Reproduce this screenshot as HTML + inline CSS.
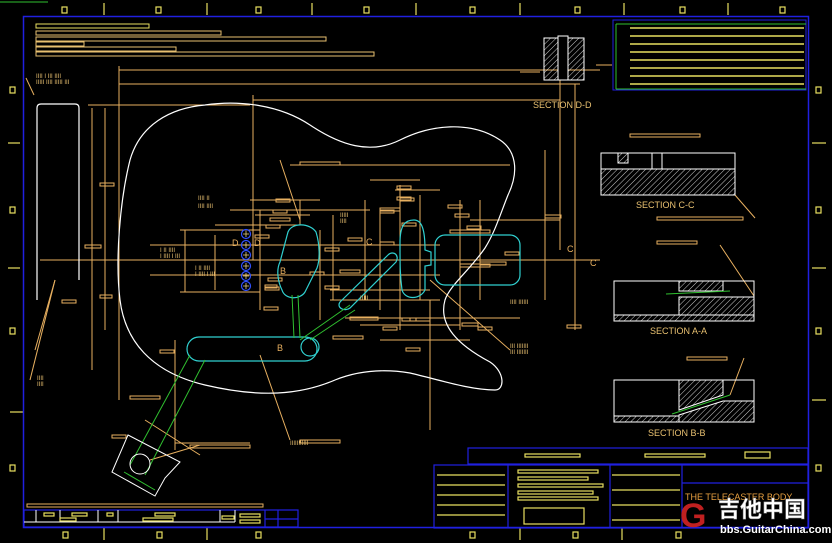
<!DOCTYPE html>
<html><head><style>
html,body{margin:0;padding:0;background:#000;width:832px;height:543px;overflow:hidden}
svg{display:block}
text{font-family:"Liberation Sans","Noto Sans CJK SC",sans-serif}
</style></head><body>
<svg width="832" height="543" viewBox="0 0 832 543" xmlns="http://www.w3.org/2000/svg">
<defs>
<pattern id="h" width="4" height="4" patternUnits="userSpaceOnUse" patternTransform="rotate(45)">
<line x1="0" y1="0" x2="0" y2="4" stroke="#fff" stroke-width="0.8"/>
</pattern>
</defs>
<rect width="832" height="543" fill="#000"/>
<!-- outer ticks -->
<g stroke="#e8e060" fill="none" stroke-width="1.2">
<rect x="62" y="7" width="5" height="6"/><rect x="156" y="7" width="5" height="6"/><rect x="256" y="7" width="5" height="6"/><rect x="364" y="7" width="5" height="6"/><rect x="470" y="7" width="5" height="6"/><rect x="575" y="7" width="5" height="6"/><rect x="680" y="7" width="5" height="6"/><rect x="780" y="7" width="5" height="6"/>
<line x1="104" y1="3" x2="104" y2="15"/><line x1="207" y1="3" x2="207" y2="15"/><line x1="312" y1="3" x2="312" y2="15"/><line x1="416" y1="3" x2="416" y2="15"/><line x1="520" y1="3" x2="520" y2="15"/><line x1="624" y1="3" x2="624" y2="15"/><line x1="728" y1="3" x2="728" y2="15"/>
<rect x="10" y="87" width="5" height="6"/><rect x="10" y="207" width="5" height="6"/><rect x="10" y="328" width="5" height="6"/><rect x="10" y="465" width="5" height="6"/>
<line x1="8" y1="143" x2="20" y2="143"/><line x1="8" y1="268" x2="20" y2="268"/><line x1="10" y1="412" x2="24" y2="412"/>
<rect x="816" y="87" width="5" height="6"/><rect x="816" y="207" width="5" height="6"/><rect x="816" y="328" width="5" height="6"/><rect x="816" y="465" width="5" height="6"/>
<line x1="812" y1="143" x2="826" y2="143"/><line x1="812" y1="268" x2="826" y2="268"/><line x1="812" y1="400" x2="826" y2="400"/>
<rect x="63" y="532" width="5" height="6"/><rect x="157" y="532" width="5" height="6"/><rect x="256" y="532" width="5" height="6"/><rect x="470" y="532" width="5" height="6"/><rect x="573" y="532" width="5" height="6"/><rect x="676" y="532" width="5" height="6"/>
<line x1="104" y1="528" x2="104" y2="540"/><line x1="207" y1="528" x2="207" y2="540"/><line x1="520" y1="528" x2="520" y2="540"/><line x1="622" y1="528" x2="622" y2="540"/>
</g>
<line x1="0" y1="2" x2="48" y2="2" stroke="#30c030"/>
<!-- border -->
<rect x="23.5" y="16.5" width="785" height="511" fill="none" stroke="#2020e0" stroke-width="1.5"/>
<!-- top notes -->
<g fill="none" stroke="#e8c070" stroke-width="1">
<rect x="36" y="24" width="113" height="4" stroke="#e8e060"/><rect x="36" y="31" width="185" height="4"/><rect x="36" y="37" width="290" height="4"/><rect x="36" y="42" width="48" height="4"/><rect x="36" y="47" width="140" height="4"/><rect x="36" y="52" width="338" height="4"/>
</g>
<!-- dimension lines orange -->
<g stroke="#e8b060" stroke-width="1" fill="none">
<line x1="119" y1="70" x2="600" y2="70"/><line x1="119" y1="84" x2="580" y2="84"/><line x1="253" y1="100" x2="560" y2="100"/>
<line x1="119" y1="66" x2="119" y2="400"/><line x1="253" y1="95" x2="253" y2="260"/>
<line x1="88" y1="105" x2="250" y2="105"/><line x1="92" y1="108" x2="92" y2="370"/><line x1="105" y1="108" x2="105" y2="330"/>
<line x1="40" y1="260" x2="600" y2="260"/><line x1="150" y1="245" x2="440" y2="245"/><line x1="150" y1="275" x2="440" y2="275"/>
<line x1="180" y1="230" x2="260" y2="230"/><line x1="180" y1="292" x2="260" y2="292"/><line x1="185" y1="230" x2="185" y2="292"/><line x1="215" y1="235" x2="215" y2="290"/>
<line x1="560" y1="70" x2="560" y2="250"/><line x1="575" y1="84" x2="575" y2="330"/><line x1="545" y1="150" x2="545" y2="300"/>
<line x1="290" y1="165" x2="510" y2="165"/><line x1="370" y1="180" x2="420" y2="180"/><line x1="230" y1="210" x2="370" y2="210"/><line x1="215" y1="225" x2="300" y2="225"/>
<line x1="330" y1="290" x2="430" y2="290"/><line x1="360" y1="325" x2="460" y2="325"/><line x1="470" y1="220" x2="560" y2="220"/>
<line x1="345" y1="318" x2="520" y2="318"/><line x1="330" y1="300" x2="440" y2="300"/><line x1="380" y1="340" x2="470" y2="340"/>
<line x1="250" y1="200" x2="320" y2="200"/><line x1="255" y1="215" x2="310" y2="215"/><line x1="395" y1="190" x2="440" y2="190"/>
<line x1="175" y1="340" x2="175" y2="450"/><line x1="175" y1="443" x2="250" y2="443"/><line x1="430" y1="300" x2="430" y2="430"/>
<line x1="260" y1="355" x2="290" y2="440"/><line x1="430" y1="280" x2="510" y2="350"/><line x1="280" y1="160" x2="300" y2="220"/>
<line x1="400" y1="185" x2="400" y2="330"/><line x1="365" y1="200" x2="365" y2="300"/><line x1="320" y1="230" x2="320" y2="320"/>
<line x1="333" y1="215" x2="333" y2="300"/><line x1="380" y1="210" x2="380" y2="310"/><line x1="420" y1="195" x2="420" y2="300"/><line x1="460" y1="200" x2="460" y2="330"/><line x1="480" y1="200" x2="480" y2="300"/>
<line x1="260" y1="210" x2="260" y2="310"/><line x1="300" y1="200" x2="300" y2="225"/>
<line x1="55" y1="280" x2="35" y2="350"/><line x1="34" y1="95" x2="26" y2="78"/><line x1="30" y1="380" x2="55" y2="280"/>
<line x1="596" y1="65" x2="612" y2="65"/><line x1="520" y1="72" x2="540" y2="72"/>
<line x1="145" y1="420" x2="200" y2="455"/><line x1="150" y1="460" x2="200" y2="445"/>
<line x1="735" y1="195" x2="755" y2="218"/><line x1="720" y1="245" x2="754" y2="296"/><line x1="744" y1="358" x2="730" y2="395"/>
</g>
<g fill="none" stroke="#e8b060" stroke-width="1">
<rect x="300" y="162" width="40" height="3"/><rect x="85" y="245" width="16" height="3"/><rect x="100" y="295" width="12" height="3"/><rect x="62" y="300" width="14" height="3"/><rect x="100" y="183" width="14" height="3"/>
<rect x="270" y="218" width="20" height="3"/><rect x="255" y="235" width="14" height="3"/><rect x="265" y="285" width="12" height="3"/><rect x="380" y="208" width="20" height="3"/><rect x="410" y="318" width="20" height="3"/>
<rect x="462" y="323" width="16" height="3"/><rect x="545" y="215" width="16" height="3"/><rect x="567" y="325" width="14" height="3"/><rect x="400" y="198" width="14" height="3"/>
<rect x="190" y="445" width="60" height="3"/><rect x="300" y="440" width="40" height="3"/><rect x="333" y="336" width="30" height="3"/><rect x="450" y="230" width="40" height="3"/>
<rect x="460" y="264" width="30" height="3"/><rect x="340" y="270" width="20" height="3"/><rect x="160" y="350" width="14" height="3"/>
<rect x="276" y="199" width="14" height="3"/><rect x="273" y="210" width="14" height="3"/><rect x="266" y="225" width="14" height="3"/><rect x="268" y="278" width="14" height="3"/><rect x="265" y="287" width="14" height="3"/><rect x="264" y="307" width="14" height="3"/>
<rect x="325" y="248" width="14" height="3"/><rect x="310" y="272" width="14" height="3"/><rect x="325" y="286" width="14" height="3"/><rect x="348" y="238" width="14" height="3"/><rect x="380" y="242" width="14" height="3"/><rect x="402" y="223" width="14" height="3"/>
<rect x="397" y="186" width="14" height="3"/><rect x="397" y="197" width="14" height="3"/><rect x="380" y="210" width="14" height="3"/><rect x="448" y="205" width="14" height="3"/><rect x="455" y="214" width="14" height="3"/><rect x="467" y="226" width="14" height="3"/>
<rect x="350" y="317" width="28" height="3"/><rect x="402" y="318" width="14" height="3"/><rect x="383" y="327" width="14" height="3"/><rect x="406" y="348" width="14" height="3"/><rect x="478" y="327" width="14" height="3"/>
<rect x="480" y="262" width="26" height="3"/><rect x="505" y="252" width="14" height="3"/>
<rect x="130" y="396" width="30" height="3"/><rect x="112" y="435" width="14" height="3"/>
<rect x="630" y="134" width="70" height="3"/><rect x="657" y="241" width="40" height="3"/><rect x="687" y="357" width="40" height="3"/><rect x="657" y="217" width="86" height="3"/>
<rect x="27" y="504" width="236" height="3"/>
</g>
<!-- left side bar -->
<path d="M37,300 L37,108 Q37,104 41,104 L75,104 Q79,104 79,108 L79,280" fill="none" stroke="#fff" stroke-width="1.2"/>
<!-- body outline -->
<path d="M205,105 C240,100 280,105 310,125 C340,145 370,155 400,140 C430,125 470,120 500,140 C515,150 520,170 508,195 C500,215 495,232 485,248 C470,270 450,285 445,300 C438,325 458,345 490,362 C505,372 505,390 495,390 C470,390 440,380 410,373 C380,368 355,372 335,380 C300,395 260,398 205,385 C150,372 125,340 120,300 C115,260 120,200 130,160 C140,125 170,108 205,105 Z" fill="none" stroke="#fff" stroke-width="1.2"/>
<!-- pickups cyan -->
<g fill="none" stroke="#30d0d0" stroke-width="1.2">
<rect x="187" y="337" width="130" height="24" rx="12"/>
<path d="M288,232 C292,222 310,223 316,232 C320,245 320,260 317,268 L305,292 C300,300 285,300 282,290 C278,282 276,270 280,262 Z"/>
<path d="M400,243 C400,225 405,220 414,220 C422,220 425,230 425,250 L431,252 L431,265 L425,266 L425,290 C420,300 405,300 402,290 C400,275 400,265 400,243 Z"/>
<rect x="435" y="235" width="85" height="50" rx="10"/>
<path d="M340,302 L388,255 C393,250 400,255 396,262 L350,308 C345,312 336,308 340,302 Z"/>
<circle cx="310" cy="347" r="9"/>
</g>
<g stroke="#3050ff" fill="none" stroke-width="1.2">
<circle cx="246" cy="234" r="4.5"/><circle cx="246" cy="245" r="4.5"/><circle cx="246" cy="255" r="4.5"/><circle cx="246" cy="266" r="4.5"/><circle cx="246" cy="276" r="4.5"/><circle cx="246" cy="286" r="4.5"/>
</g>
<g stroke="#e8d080" stroke-width="0.8">
<path d="M243,234h6M246,231v6M243,245h6M246,242v6M243,255h6M246,252v6M243,266h6M246,263v6M243,276h6M246,273v6M243,286h6M246,283v6"/>
</g>
<g stroke="#30c030" stroke-width="1" fill="none">
<line x1="292" y1="295" x2="294" y2="338"/><line x1="298" y1="295" x2="300" y2="338"/><line x1="300" y1="340" x2="350" y2="305"/><line x1="310" y1="340" x2="355" y2="310"/>
<line x1="190" y1="355" x2="130" y2="465"/><line x1="205" y1="360" x2="145" y2="475"/><line x1="124" y1="472" x2="155" y2="490"/>
</g>
<g stroke="#fff" fill="none" stroke-width="1">
<path d="M112,472 L128,435 L180,462 L165,478 L155,496 Z"/><circle cx="140" cy="464" r="10"/>
</g>
<g fill="#e8b060" font-size="9">
<text x="232" y="246">D</text><text x="254" y="246">D</text><text x="280" y="274">B</text><text x="366" y="245">C</text><text x="567" y="252">C</text><text x="590" y="266">C</text><text x="277" y="351">B</text>
</g>
<!-- small labels -->
<g fill="#e8c070" font-size="6" font-family="Liberation Mono,monospace">
<text x="36" y="78">IIII I III IIII</text><text x="36" y="84">IIIII IIII IIIII III</text>
<text x="198" y="200">IIII II</text><text x="198" y="208">IIII IIII</text><text x="340" y="217">IIIII</text><text x="340" y="223">IIII</text>
<text x="160" y="252">I II IIII</text><text x="160" y="258">I IIII I III</text><text x="195" y="270">I II IIII</text><text x="195" y="276">I IIII I III</text>
<text x="510" y="304">IIII IIIIII</text><text x="510" y="348">III IIIIIII</text><text x="510" y="354">III IIIIIII</text><text x="290" y="445">IIIIIIIIIII</text>
<text x="37" y="380">IIII</text><text x="37" y="386">IIII</text><text x="360" y="300">IIIII</text>
</g>
<!-- Section D-D -->
<g fill="none" stroke="#fff" stroke-width="1">
<rect x="544" y="38" width="40" height="42" fill="url(#h)"/><rect x="558" y="36" width="10" height="44" fill="#000"/>
</g>
<text x="533" y="108" fill="#e8c070" font-size="9">SECTION D-D</text>
<!-- section C-C -->
<g fill="none" stroke="#fff" stroke-width="1">
<rect x="601" y="169" width="134" height="26" fill="url(#h)"/><rect x="601" y="153" width="134" height="16"/><line x1="652" y1="153" x2="652" y2="169"/><line x1="662" y1="153" x2="662" y2="169"/><rect x="618" y="153" width="10" height="10" fill="url(#h)"/>
</g>
<text x="636" y="208" fill="#e8c070" font-size="9">SECTION C-C</text>
<!-- A-A -->
<g fill="none" stroke="#fff" stroke-width="1">
<rect x="614" y="281" width="140" height="40"/>
<rect x="679" y="281" width="44" height="10" fill="url(#h)"/><rect x="679" y="297" width="75" height="18" fill="url(#h)"/><rect x="614" y="315" width="140" height="6" fill="url(#h)"/>
</g>
<line x1="666" y1="294" x2="730" y2="291" stroke="#30c030"/>
<text x="650" y="334" fill="#e8c070" font-size="9">SECTION A-A</text>
<!-- B-B -->
<g fill="none" stroke="#fff" stroke-width="1">
<rect x="614" y="380" width="140" height="42"/>
<path d="M679,380 L723,380 L723,395 L679,410 Z" fill="url(#h)"/><path d="M679,415 L723,401 L754,401 L754,422 L679,422 Z" fill="url(#h)"/><rect x="614" y="416" width="65" height="6" fill="url(#h)"/>
</g>
<line x1="672" y1="414" x2="730" y2="395" stroke="#30c030"/>
<text x="648" y="436" fill="#e8c070" font-size="9">SECTION B-B</text>
<!-- revision table top right -->
<g fill="none" stroke="#2020e0" stroke-width="1"><rect x="613" y="20" width="193" height="70"/></g>
<g stroke="#e8e060" stroke-width="1.5"><line x1="630" y1="28" x2="804" y2="28"/><line x1="630" y1="36" x2="804" y2="36"/><line x1="630" y1="44" x2="804" y2="44"/><line x1="630" y1="52" x2="804" y2="52"/><line x1="630" y1="60" x2="804" y2="60"/><line x1="630" y1="68" x2="804" y2="68"/><line x1="630" y1="76" x2="804" y2="76"/><line x1="630" y1="84" x2="804" y2="84"/></g>
<g stroke="#30c030" stroke-width="1"><line x1="616" y1="24" x2="806" y2="24"/><line x1="616" y1="89" x2="806" y2="89"/><line x1="616" y1="24" x2="616" y2="89"/></g>
<!-- title block -->
<g fill="none" stroke="#2020e0" stroke-width="1.2">
<rect x="468" y="448" width="340" height="16"/><rect x="434" y="465" width="374" height="63"/>
<line x1="508" y1="465" x2="508" y2="528"/><line x1="610" y1="465" x2="610" y2="528"/><line x1="682" y1="465" x2="682" y2="528"/><line x1="682" y1="483" x2="808" y2="483"/>
<rect x="24" y="510" width="274" height="17"/><line x1="265" y1="510" x2="265" y2="527"/><line x1="278" y1="510" x2="278" y2="527"/><line x1="265" y1="519" x2="298" y2="519"/>
</g>
<g stroke="#fff" stroke-width="1"><line x1="24" y1="522" x2="235" y2="522"/><line x1="36" y1="510" x2="36" y2="522"/><line x1="60" y1="510" x2="60" y2="522"/><line x1="98" y1="510" x2="98" y2="522"/><line x1="118" y1="510" x2="118" y2="522"/><line x1="220" y1="510" x2="220" y2="522"/><line x1="235" y1="510" x2="235" y2="522"/></g>
<g stroke="#e8e060" stroke-width="1.2" fill="none">
<rect x="525" y="454" width="55" height="3"/><rect x="645" y="454" width="60" height="3"/><rect x="745" y="452" width="25" height="6"/>
<line x1="437" y1="475" x2="505" y2="475"/><line x1="437" y1="485" x2="505" y2="485"/><line x1="437" y1="495" x2="505" y2="495"/><line x1="437" y1="505" x2="505" y2="505"/><line x1="437" y1="515" x2="505" y2="515"/>
<rect x="518" y="470" width="80" height="3"/><rect x="518" y="477" width="70" height="3"/><rect x="518" y="484" width="85" height="3"/><rect x="518" y="491" width="75" height="3"/><rect x="518" y="497" width="80" height="3"/>
<line x1="612" y1="475" x2="680" y2="475"/><line x1="612" y1="490" x2="680" y2="490"/><line x1="612" y1="505" x2="680" y2="505"/><line x1="612" y1="520" x2="680" y2="520"/>
<rect x="524" y="508" width="60" height="16"/>
<rect x="44" y="513" width="10" height="3"/><rect x="72" y="513" width="15" height="3"/><rect x="60" y="518" width="16" height="3"/><rect x="107" y="513" width="6" height="3"/><rect x="155" y="513" width="20" height="3"/><rect x="143" y="518" width="30" height="3"/><rect x="222" y="516" width="12" height="3"/><rect x="240" y="514" width="20" height="3"/><rect x="240" y="520" width="20" height="3"/>
</g>
<text x="685" y="500" fill="#e8a040" font-size="9">THE TELECASTER BODY</text>
<!-- watermark -->
<text x="680" y="527" fill="#c02020" font-size="34" font-weight="bold">G</text>
<text x="718" y="517" fill="#fff" font-size="22" font-weight="bold" font-family="Noto Sans CJK SC,sans-serif" stroke="#888" stroke-width="0.5">吉他中国</text>
<text x="720" y="533" fill="#fff" font-size="11" font-weight="bold">bbs.GuitarChina.com</text>
</svg>
</body></html>
